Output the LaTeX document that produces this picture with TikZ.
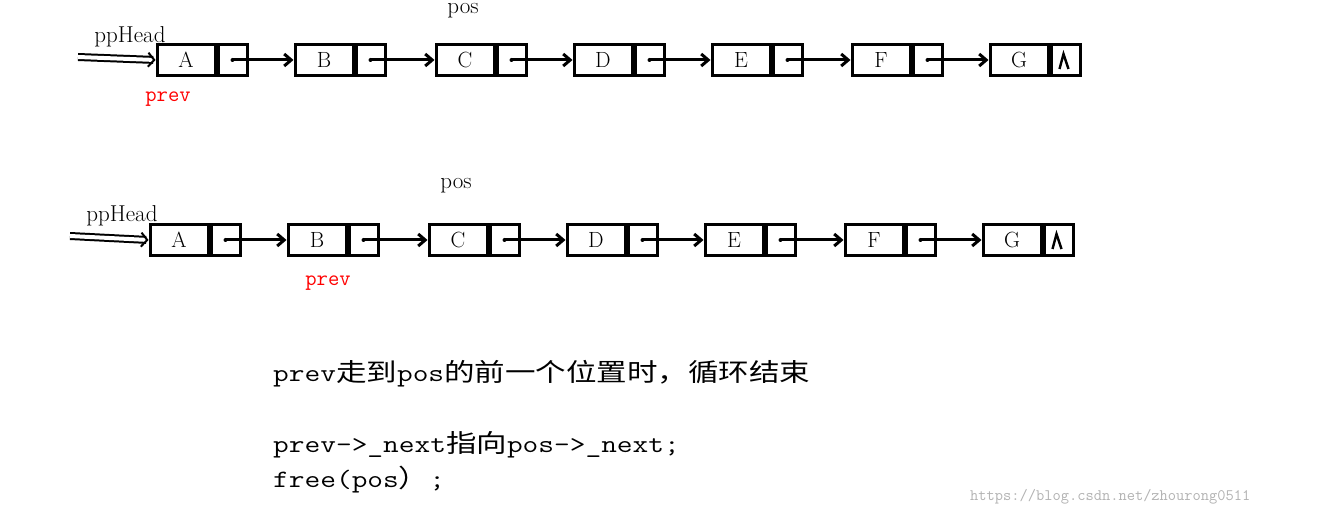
\documentclass[tikz,border=0pt]{standalone}
\usepackage{fontspec}
\newfontfamily\cjk{Noto Sans CJK SC}
\usetikzlibrary{arrows.meta}
\tikzset{
  data/.style={draw,line width=3pt,minimum width=58pt,minimum height=31pt,inner sep=0pt,font=\fontsize{22}{24}\selectfont},
  ptr/.style={draw,line width=3pt,minimum width=29pt,minimum height=31pt,inner sep=0pt},
  link/.style={line width=3pt,-{Straight Barb[length=7pt,width=12pt]}},
  lbl/.style={font=\fontsize{23}{25}\selectfont},
  red lbl/.style={font=\fontsize{22}{24}\selectfont\ttfamily,text=red},
  txt/.style={anchor=west,font=\fontsize{25}{27}\selectfont,inner sep=0pt,xscale=1.22,transform shape}
}
\begin{document}
\begin{tikzpicture}[x=1pt,y=-1pt]
  \useasboundingbox (0,0) rectangle (1323,518);
  %Knoten, zwei Zeilen
  \foreach \r/\dx/\y in {1/0/60,2/-7/240}{
    \foreach \n/\x in {A/157,B/295,C/436,D/574,E/712,F/852,G/990}{
      \node[data] (\n\r) at (\x+29+\dx,\y) {\n};
      \node[ptr,anchor=west] (p\n\r) at (\n\r.east) {};
    }
    \foreach \a/\b in {A/B,B/C,C/D,D/E,E/F,F/G}{
      \fill (p\a\r.center) circle (2pt);
      \draw[link] (p\a\r.center) -- (\b\r.west);
    }
    %Nullzeiger
    \draw[line width=2.4pt] ([xshift=-6pt,yshift=-9pt]pG\r.center) -- ([xshift=-2pt,yshift=6pt]pG\r.center) -- ([xshift=3pt,yshift=-9pt]pG\r.center);
  }
  %Beschriftungen
  \node[lbl] (pos1) at (463,11) {pos};
  \node[lbl] (pos2) at (456,186) {pos};
  \node[lbl] (head1) at (130,37) {ppHead};
  \node[lbl] (head2) at (122,216) {ppHead};
  \node[red lbl] (prev1) at (168,99) {prev};
  \node[red lbl] (prev2) at (328,283) {prev};
  \coordinate (h1) at (78,57);
  \coordinate (h2) at (70,236);
  \draw[line width=2pt,double distance=4pt,-{Straight Barb[length=6pt,width=14pt]}] (h1) -- (A1.west);
  \draw[line width=2pt,double distance=4pt,-{Straight Barb[length=6pt,width=14pt]}] (h2) -- (A2.west);
  %Text unten
  \node[txt] (t1) at (273,374) {\ttfamily prev\cjk 走到\ttfamily pos\cjk 的前一个位置时，循环结束};
  \node[txt] (t2) at (273,445) {\ttfamily prev->\_next\cjk 指向\ttfamily pos->\_next;};
  \node[txt] (t3) at (273,480) {\ttfamily free(pos\cjk ）\ttfamily ;};
  \node[anchor=west,text=gray!60,font=\fontsize{16}{18}\selectfont\ttfamily,inner sep=0pt] (wm) at (970,497) {https://blog.csdn.net/zhourong0511};
\end{tikzpicture}
\end{document}
